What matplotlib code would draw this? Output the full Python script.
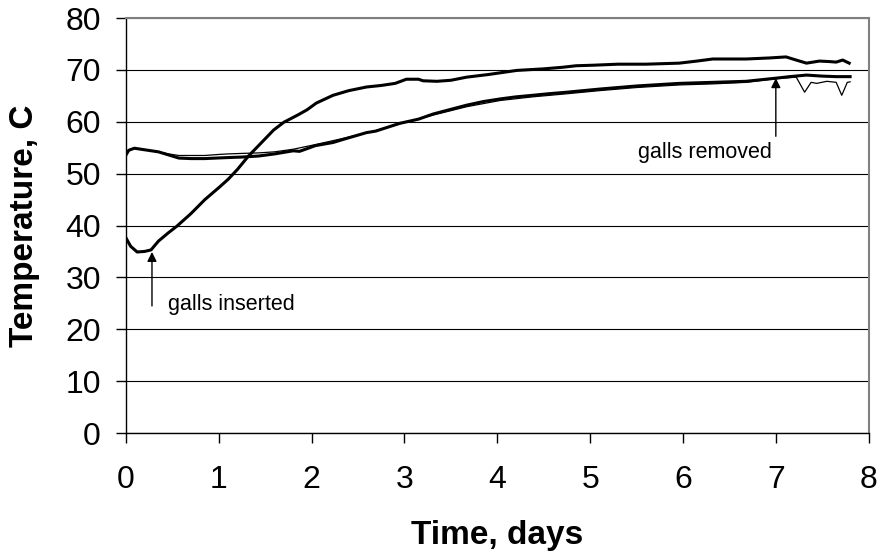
import matplotlib
matplotlib.use("Agg")
import matplotlib.pyplot as plt

plt.rcParams['font.family'] = ['Liberation Sans', 'DejaVu Sans']

# gall-inserted run (thick line that warms up after day 0.3)
days_warm = [0, 0.05, 0.12, 0.2, 0.27, 0.35, 0.45, 0.55, 0.7, 0.85, 1.0, 1.1, 1.2,
             1.32, 1.45, 1.59, 1.7, 1.85, 1.95, 2.05, 2.23, 2.4, 2.59, 2.75, 2.9,
             3.02, 3.15, 3.2, 3.35, 3.5, 3.67, 3.9, 4.21, 4.5, 4.7, 4.85, 5.03,
             5.3, 5.6, 5.96, 6.15, 6.32, 6.68, 6.93, 7.11, 7.2, 7.33, 7.47, 7.58,
             7.65, 7.72, 7.79]
temp_warm = [37.6, 36.0, 34.9, 35.0, 35.3, 37.0, 38.5, 39.9, 42.3, 45.0, 47.3, 48.9,
             50.8, 53.4, 55.8, 58.4, 59.9, 61.3, 62.3, 63.6, 65.1, 66.0, 66.7, 67.0,
             67.4, 68.2, 68.2, 67.9, 67.8, 68.0, 68.6, 69.1, 69.9, 70.2, 70.5, 70.8,
             70.9, 71.1, 71.1, 71.3, 71.7, 72.1, 72.1, 72.3, 72.5, 72.0, 71.3, 71.7,
             71.6, 71.5, 71.9, 71.3]

# second run, thick line
days_b = [0, 0.03, 0.09, 0.2, 0.35, 0.46, 0.57, 0.7, 0.85, 0.97, 1.1, 1.25, 1.43,
          1.6, 1.8, 1.87, 2.04, 2.23, 2.34, 2.59, 2.69, 2.95, 3.15, 3.31, 3.5, 3.67,
          3.85, 4.03, 4.2, 4.38, 4.55, 4.75, 5.1, 5.5, 5.96, 6.32, 6.68, 7.0, 7.15,
          7.33, 7.5, 7.65, 7.8]
temp_b = [53.6, 54.5, 54.9, 54.6, 54.2, 53.6, 53.0, 52.9, 52.9, 53.0, 53.1, 53.2,
          53.4, 53.8, 54.4, 54.3, 55.4, 56.0, 56.6, 57.9, 58.2, 59.7, 60.5, 61.5,
          62.4, 63.2, 63.9, 64.4, 64.8, 65.1, 65.4, 65.7, 66.3, 66.9, 67.4, 67.6,
          67.8, 68.4, 68.7, 69.0, 68.8, 68.7, 68.7]

# third run, thin line
days_c = [0, 0.03, 0.09, 0.2, 0.35, 0.46, 0.57, 0.7, 0.85, 1.0, 1.1, 1.25, 1.43,
          1.6, 1.8, 2.04, 2.34, 2.69, 2.95, 3.31, 3.67, 4.03, 4.38, 4.75, 5.1, 5.5,
          5.96, 6.32, 6.68, 7.0, 7.22, 7.31, 7.38, 7.44, 7.55, 7.65, 7.71, 7.77, 7.8]
temp_c = [53.8, 54.6, 54.8, 54.6, 54.2, 53.8, 53.5, 53.5, 53.5, 53.7, 53.8, 53.9,
          54.0, 54.2, 54.7, 55.6, 56.8, 58.3, 59.6, 61.3, 62.9, 64.1, 64.8, 65.4,
          66.0, 66.6, 67.1, 67.3, 67.6, 68.3, 68.6, 65.7, 67.6, 67.4, 67.8, 67.6,
          65.1, 67.6, 67.7]

x_ticks = [0, 1, 2, 3, 4, 5, 6, 7, 8]
y_ticks = [0, 10, 20, 30, 40, 50, 60, 70, 80]

fig = plt.figure(figsize=(8.81, 5.56), dpi=100)
ax = fig.add_axes([0.143, 0.2212, 0.843, 0.7464])

ax.plot(days_c, temp_c, color='black', lw=0.9)
ax.plot(days_b, temp_b, color='black', lw=2.2)
ax.plot(days_warm, temp_warm, color='black', lw=2.2)

ax.set_xlim(0, 8)
ax.set_ylim(0, 80)
ax.set_xticks(x_ticks)
ax.set_yticks(y_ticks)
ax.yaxis.grid(True, color='black', lw=0.8)
ax.set_axisbelow(True)

ax.tick_params(axis='both', labelsize=23, direction='out', length=7, width=1,
               color='black')
ax.tick_params(axis='x', pad=16)
ax.tick_params(axis='y', pad=11)

for side in ('left', 'bottom'):
    ax.spines[side].set_color('black')
    ax.spines[side].set_linewidth(1)
for side in ('right', 'top'):
    ax.spines[side].set_color('#808080')
    ax.spines[side].set_linewidth(1.5)

ax.set_xlabel('Time, days', fontsize=24, fontweight='bold')
ax.set_ylabel('Temperature, C', fontsize=24, fontweight='bold')
ax.xaxis.label.set_va('center')
ax.yaxis.label.set_va('center')
ax.xaxis.set_label_coords(0.5, -0.246)
ax.yaxis.set_label_coords(-0.136, 0.5)

arrow = dict(arrowstyle='-|>', color='black', lw=1, shrinkA=0, shrinkB=0,
             mutation_scale=14)
ax.annotate('', xy=(0.28, 34.9), xytext=(0.28, 24.5), arrowprops=arrow)
ax.text(0.45, 24.7, 'galls inserted', fontsize=15.5, ha='left', va='center')
ax.annotate('', xy=(7.0, 68.4), xytext=(7.0, 57.2), arrowprops=arrow)
ax.text(6.96, 54.1, 'galls removed', fontsize=15.5, ha='right', va='center')

fig.savefig('out.png', dpi=100)
